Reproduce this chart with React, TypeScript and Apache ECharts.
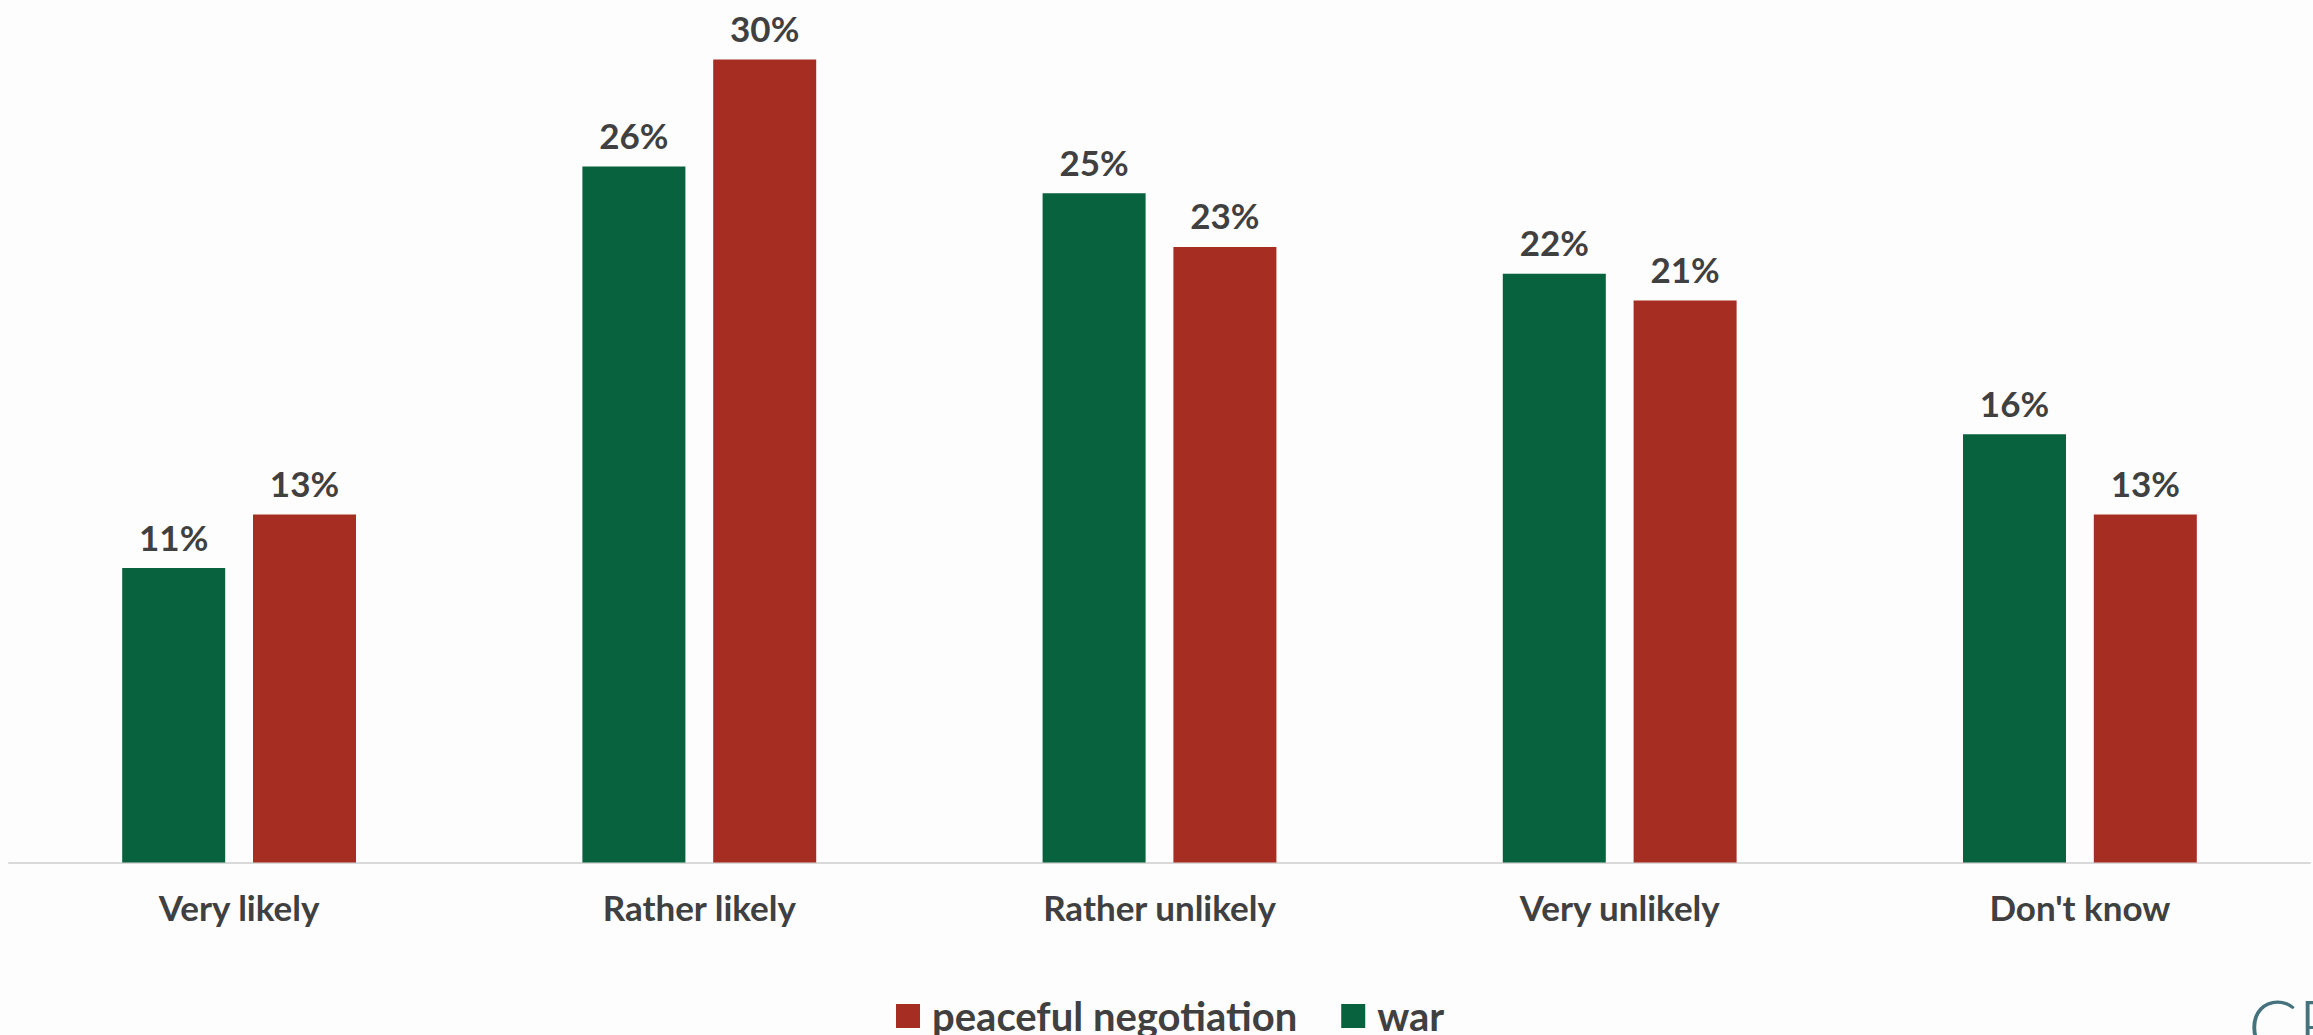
import React, { useEffect, useRef } from "react";
import * as echarts from "echarts";

const categories = ["Very likely", "Rather likely", "Rather unlikely", "Very unlikely", "Don't know"];
const warValues = [11, 26, 25, 22, 16];
const peaceValues = [13, 30, 23, 21, 13];
const seriesNames = ["war", "peaceful negotiation"];

const FONT = "Lato, 'Open Sans', sans-serif";
const TEXT = "#404040";

export default function App() {
  const ref = useRef<HTMLDivElement>(null);
  useEffect(() => {
    if (!ref.current) return;
    const chart = echarts.init(ref.current, null, { renderer: "svg" });
    const label = {
      show: true,
      position: "top",
      distance: 14,
      formatter: "{c}%",
      color: TEXT,
      fontFamily: FONT,
      fontWeight: "bold",
      fontSize: 35,
    };
    chart.setOption({
      animation: false,
      backgroundColor: "#fdfdfd",
      textStyle: { fontFamily: FONT },
      grid: { left: 9, right: 3, top: 6, bottom: 172.5, containLabel: false },
      legend: {
        data: ["peaceful negotiation", "war"],
        left: 891,
        top: 991,
        icon: "rect",
        itemWidth: 24,
        itemHeight: 24,
        itemGap: 44,
        textStyle: {
          color: TEXT,
          fontFamily: FONT,
          fontWeight: "bold",
          fontSize: 40,
          lineHeight: 40,
          padding: [0, 0, 0, 7],
        },
      },
      xAxis: {
        type: "category",
        data: categories,
        axisLine: { show: true, lineStyle: { color: "#d9d9d9", width: 2 } },
        axisTick: { show: false },
        axisLabel: { color: TEXT, fontFamily: FONT, fontWeight: "bold", fontSize: 35, margin: 27 },
      },
      yAxis: {
        type: "value",
        min: 0,
        max: 32,
        show: false,
        splitLine: { show: false },
      },
      series: [
        {
          name: seriesNames[0],
          type: "bar",
          data: warValues,
          barWidth: 103,
          barGap: "27%",
          itemStyle: { color: "#07623d" },
          label,
        },
        {
          name: seriesNames[1],
          type: "bar",
          data: peaceValues,
          barWidth: 103,
          barGap: "27%",
          itemStyle: { color: "#a52d22" },
          label,
        },
      ],
      graphic: [
        {
          type: "text",
          left: 2248,
          top: 988,
          silent: true,
          style: {
            text: "C",
            fill: "#45737d",
            font: "300 74px Lato, 'Open Sans', sans-serif",
          },
        },
        {
          type: "text",
          left: 2298,
          top: 988,
          silent: true,
          style: {
            text: "E",
            fill: "#45737d",
            font: "300 74px Lato, 'Open Sans', sans-serif",
          },
        },
      ],
    });
    return () => chart.dispose();
  }, []);
  return (
    <div
      ref={ref}
      style={{ position: "absolute", left: 0, top: 0, width: 2313, height: 1035, overflow: "hidden" }}
    />
  );
}
